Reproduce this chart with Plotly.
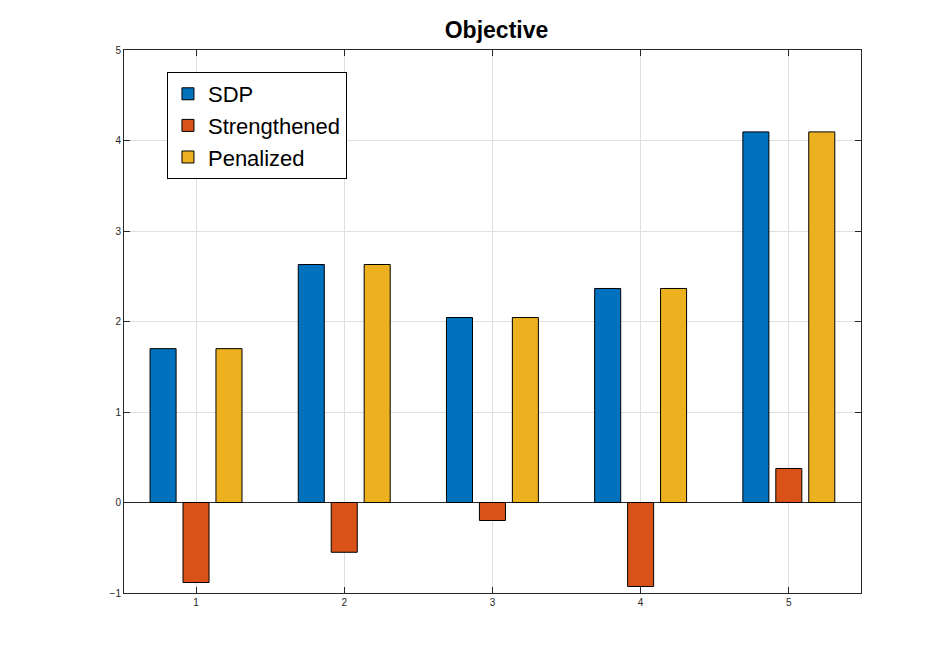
import plotly.graph_objects as go

categories = [1, 2, 3, 4, 5]
sdp = [1.70, 2.63, 2.044, 2.365, 4.095]
strengthened = [-0.884, -0.55, -0.199, -0.928, 0.376]
penalized = [1.70, 2.63, 2.044, 2.365, 4.095]
y_ticks = [-1, 0, 1, 2, 3, 4, 5]

colors = {"SDP": "#0072BD", "Strengthened": "#D95319", "Penalized": "#EDB120"}

fig = go.Figure()
for name, vals in [("SDP", sdp), ("Strengthened", strengthened), ("Penalized", penalized)]:
    fig.add_trace(go.Bar(
        x=categories, y=vals, name=name,
        marker=dict(color=colors[name], line=dict(color="black", width=1)),
    ))

axis_common = dict(
    showline=True, linecolor="#262626", linewidth=1, mirror="ticks",
    ticks="inside", ticklen=6, tickcolor="#262626",
    showgrid=True, gridcolor="#DFDFDF", gridwidth=1,
    tickfont=dict(family="Liberation Sans, Arial, sans-serif", size=10, color="#262626"),
)

fig.update_layout(
    width=944, height=659,
    paper_bgcolor="white", plot_bgcolor="white",
    margin=dict(l=116, r=91, t=42, b=74),
    barmode="group", bargap=0.333, bargroupgap=0.21,
    title=dict(text="<b>Objective</b>", x=0.5175, xanchor="center", y=0.967, yanchor="middle",
               font=dict(family="Liberation Sans, Arial, sans-serif", size=23, color="black")),
    xaxis=dict(range=[0.514, 5.487], tickvals=categories, zeroline=False, **axis_common),
    yaxis=dict(range=[-1, 5], tickvals=y_ticks, zeroline=True, zerolinecolor="#262626",
               zerolinewidth=1, **axis_common),
    legend=dict(x=0.0583, y=0.9595, xanchor="left", yanchor="top",
                bordercolor="black", borderwidth=1, bgcolor="white",
                font=dict(family="Liberation Sans, Arial, sans-serif", size=22, color="black"),
                tracegroupgap=0, itemwidth=30),
    showlegend=True,
)

fig.write_html("out.html")
